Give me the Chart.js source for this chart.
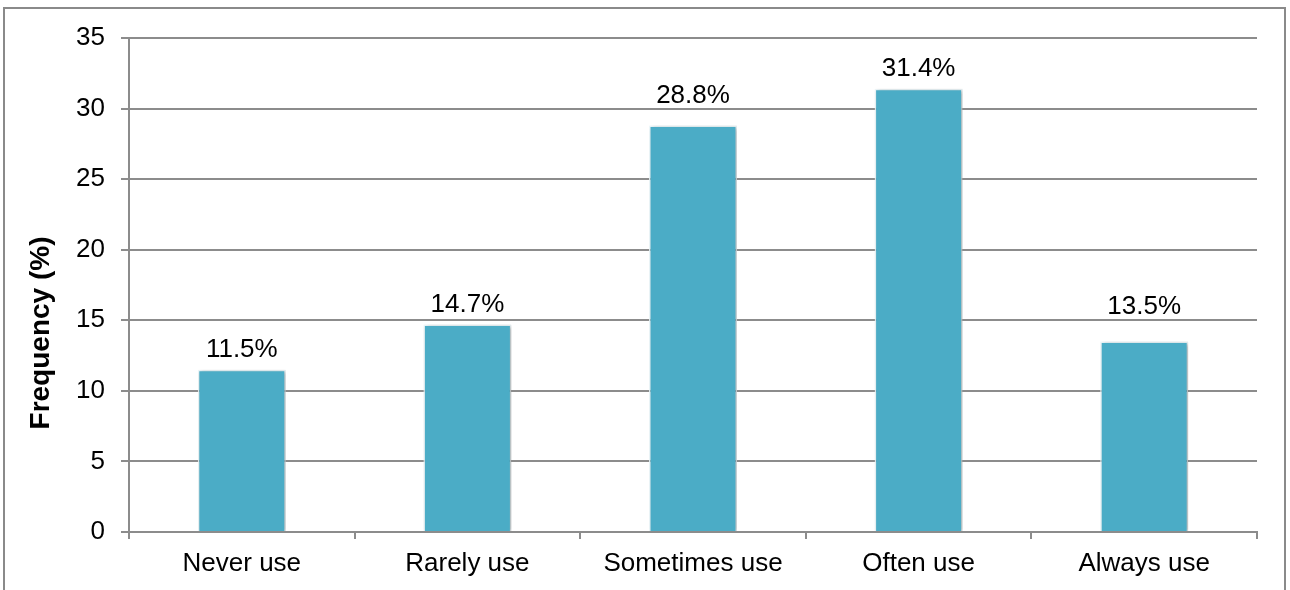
<!DOCTYPE html>
<html>
<head>
<meta charset="utf-8">
<script src="https://cdn.jsdelivr.net/npm/chart.js@4.4.0/dist/chart.umd.min.js"></script>
<style>
  html, body { margin: 0; padding: 0; background: #fff; }
  #frame { position: absolute; left: 3px; top: 7px; width: 1283px; height: 600px;
           border: 2px solid #8a8a8a; box-sizing: border-box; }
  #chart { position: absolute; left: 0; top: 0; }
</style>
</head>
<body>
<div id="frame"></div>
<canvas id="chart" width="1290" height="590"></canvas>
<script>
'use strict';

// ── data ──
const categories = ['Never use', 'Rarely use', 'Sometimes use', 'Often use', 'Always use'];
const frequency  = [11.5, 14.7, 28.8, 31.4, 13.5];
const yTicks     = [0, 5, 10, 15, 20, 25, 30, 35];
const yTitle     = 'Frequency (%)';

const FONT = '"Liberation Sans", Arial, sans-serif';
const GRID = '#8c8c8c';

// value labels above each bar, drawn from the bar elements' own positions.
// like the original, a label that would sit on a gridline is lifted above it.
const barLabels = {
  id: 'barLabels',
  beforeDatasetsDraw(chart) {
    const ctx = chart.ctx;
    ctx.save();
    ctx.shadowColor = 'rgba(0,0,0,0.28)';
    ctx.shadowBlur = 4;
    ctx.shadowOffsetX = 2;
    ctx.shadowOffsetY = 1;
  },
  afterDatasetsDraw(chart) {
    const ctx = chart.ctx;
    ctx.restore();
    const yScale = chart.scales.y;
    const gridYs = yTicks.map(v => yScale.getPixelForValue(v));
    const meta = chart.getDatasetMeta(0);
    ctx.save();
    ctx.font = '26px ' + FONT;
    ctx.fillStyle = '#000';
    ctx.textAlign = 'center';
    ctx.textBaseline = 'alphabetic';
    meta.data.forEach((bar, i) => {
      let base = bar.y - 13;
      const hit = gridYs.find(g => g > base - 21 && g < base + 3);
      if (hit !== undefined) base = hit - 6;
      ctx.fillText(frequency[i].toFixed(1) + '%', bar.x, base);
    });
    ctx.restore();
  },
  afterDraw(chart) {
    // y-axis title sits a little below the plot's middle in the original
    const ctx = chart.ctx;
    ctx.save();
    ctx.translate(41, 333);
    ctx.rotate(-Math.PI / 2);
    ctx.font = 'bold 28px ' + FONT;
    ctx.fillStyle = '#000';
    ctx.textAlign = 'center';
    ctx.textBaseline = 'middle';
    ctx.fillText(yTitle, 0, 0);
    ctx.restore();
  }
};

new Chart(document.getElementById('chart'), {
  type: 'bar',
  data: {
    labels: categories,
    datasets: [{
      data: frequency,
      backgroundColor: '#4bacc6',
      borderColor: 'rgba(235,246,250,0.9)',
      borderWidth: 1.5,
      categoryPercentage: 1,
      barPercentage: 0.39
    }]
  },
  options: {
    responsive: false,
    animation: false,
    layout: { padding: { left: 0, top: 38, right: 33, bottom: 0 } },
    plugins: { legend: { display: false }, tooltip: { enabled: false } },
    scales: {
      x: {
        offset: true,
        grid: { offset: true, drawOnChartArea: false, drawTicks: true, tickLength: 7, color: GRID, lineWidth: 2 },
        border: { color: GRID, width: 2 },
        ticks: { color: '#000', font: { family: FONT, size: 26 }, padding: 9, maxRotation: 0 },
        afterFit: s => { s.height = 58; }
      },
      y: {
        min: 0,
        max: 35,
        afterBuildTicks: s => { s.ticks = yTicks.map(v => ({ value: v })); },
        grid: { color: GRID, lineWidth: 2, tickLength: 8 },
        border: { color: GRID, width: 2 },
        ticks: { color: '#000', font: { family: FONT, size: 26 }, padding: 16 },
        afterFit: s => { s.width = 129; }
      }
    }
  },
  plugins: [barLabels]
});
</script>
</body>
</html>
